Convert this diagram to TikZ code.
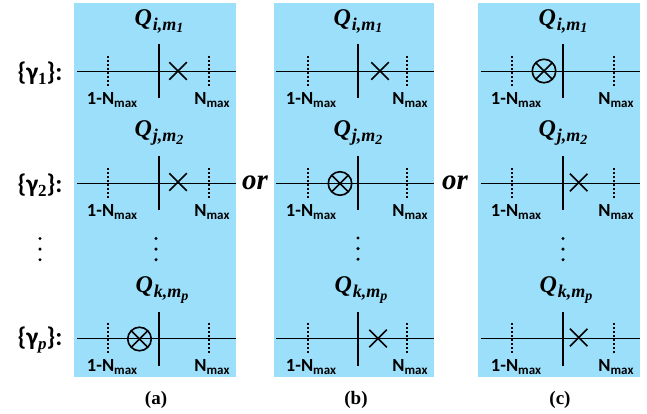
\documentclass[tikz,border=0pt]{standalone}
\usepackage{amsmath}
\usepackage{amssymb}
\usepackage{fontspec}
\usepackage{tikz}
\usetikzlibrary{shapes.misc}
\newfontfamily\calfont{Carlito}[BoldFont={Carlito Bold}]
\setmainfont{Liberation Serif}
\definecolor{panelblue}{RGB}{155,223,250}
\newcommand{\nmax}{N\raisebox{-3.5pt}{\fontsize{13}{13}\selectfont max}}
\newcommand{\qsub}[2]{Q\raisebox{-5pt}{\fontsize{18}{18}\selectfont\kern1pt #1\raisebox{-2.5pt}{\fontsize{14}{14}\selectfont #2}}}
\newcommand{\gset}[1]{\{γ\raisebox{-4pt}{\rmfamily\fontsize{17}{17}\selectfont #1}\}:}
\tikzset{
	panel/.style={fill=panelblue, draw=none},
	axis/.style={line width=1.1pt},
	wall/.style={line width=2pt},
	tick/.style={line width=2pt, dash pattern=on 2pt off 2pt},
	vdotted/.style={line width=3.4pt, line cap=round, dash pattern=on 0pt off 10.6pt},
	crossmark/.style={cross out, draw, line width=1.5pt, minimum size=16pt, inner sep=0pt},
	otimesmark/.style={circle, draw, line width=1.6pt, minimum size=23.5pt, inner sep=0pt,
		path picture={\draw[line width=1.5pt] (path picture bounding box.north west) -- (path picture bounding box.south east)
			(path picture bounding box.north east) -- (path picture bounding box.south west);}},
	qlabel/.style={font=\bfseries\itshape\fontsize{24}{24}\selectfont, inner sep=0pt},
	nlabel/.style={font=\calfont\bfseries\fontsize{18.5}{18.5}\selectfont, inner sep=0pt},
	glabel/.style={font=\calfont\bfseries\fontsize{25.5}{25.5}\selectfont, inner sep=0pt},
	orlabel/.style={font=\bfseries\itshape\fontsize{29}{29}\selectfont, inner sep=0pt},
	caption/.style={font=\bfseries\fontsize{19}{19}\selectfont, inner sep=0pt}
}
\begin{document}
\begin{tikzpicture}[x=1pt, y=-1pt]
	\useasboundingbox (0, 0) rectangle (647, 414);
	% panels
	\fill[panel] (74, 3) rectangle (236, 377);
	\fill[panel] (274, 3) rectangle (434, 377);
	\fill[panel] (478, 3) rectangle (640, 377);

	% left column
	\node[glabel] (g1) at (40, 73) {\gset{1}};
	\node[glabel] (g2) at (40, 185) {\gset{2}};
	\node[glabel] (gp) at (40, 340) {\gset{\itshape p}};
	\draw[vdotted] (40, 238.5) -- (40, 261);

	% panel a
	\node[qlabel] (qa1) at (159, 21) {\qsub{i,m}{1}};
	\draw[axis] (77, 71.5) -- (236, 71.5);
	\draw[wall] (159, 44) -- (159, 98);
	\draw[tick] (108, 56) -- (108, 86);
	\draw[tick] (209, 56) -- (209, 86);
	\node[crossmark] (xa1) at (178, 71) {};
	\node[nlabel] (la1) at (112, 100) {1-\nmax};
	\node[nlabel] (ra1) at (212, 100) {\nmax};

	\node[qlabel] (qa2) at (159, 133) {\qsub{j,m}{2}};
	\draw[axis] (77, 183.5) -- (236, 183.5);
	\draw[wall] (159, 156) -- (159, 210);
	\draw[tick] (108, 168) -- (108, 198);
	\draw[tick] (209, 168) -- (209, 198);
	\node[crossmark] (xa2) at (178, 182) {};
	\node[nlabel] (la2) at (112, 212) {1-\nmax};
	\node[nlabel] (ra2) at (212, 212) {\nmax};

	\draw[vdotted] (156, 238.5) -- (156, 261);

	\node[qlabel] (qa3) at (162, 290) {\qsub{k,m}{p}};
	\draw[axis] (77, 338.5) -- (236, 338.5);
	\draw[wall] (159, 311.5) -- (159, 365.5);
	\draw[tick] (108, 323) -- (108, 353);
	\draw[tick] (209, 323) -- (209, 353);
	\node[otimesmark] (oa3) at (139.5, 339) {};
	\node[nlabel] (la3) at (112, 367) {1-\nmax};
	\node[nlabel] (ra3) at (212, 367) {\nmax};

	% panel b
	\node[qlabel] (qb1) at (358, 21) {\qsub{i,m}{1}};
	\draw[axis] (276, 71.5) -- (434, 71.5);
	\draw[wall] (358, 44) -- (358, 98);
	\draw[tick] (308, 56) -- (308, 86);
	\draw[tick] (407, 56) -- (407, 86);
	\node[crossmark] (xb1) at (380, 71) {};
	\node[nlabel] (lb1) at (311, 100) {1-\nmax};
	\node[nlabel] (rb1) at (410, 100) {\nmax};

	\node[qlabel] (qb2) at (358, 133) {\qsub{j,m}{2}};
	\draw[axis] (276, 183.5) -- (434, 183.5);
	\draw[wall] (358, 156) -- (358, 210);
	\draw[tick] (308, 168) -- (308, 198);
	\draw[tick] (407, 168) -- (407, 198);
	\node[otimesmark] (ob2) at (340, 183.5) {};
	\node[nlabel] (lb2) at (311, 212) {1-\nmax};
	\node[nlabel] (rb2) at (410, 212) {\nmax};

	\draw[vdotted] (358, 238) -- (358, 260.5);

	\node[qlabel] (qb3) at (361, 290) {\qsub{k,m}{p}};
	\draw[axis] (276, 338.5) -- (434, 338.5);
	\draw[wall] (358, 311.5) -- (358, 365.5);
	\draw[tick] (308, 323) -- (308, 353);
	\draw[tick] (407, 323) -- (407, 353);
	\node[crossmark] (xb3) at (378, 338.5) {};
	\node[nlabel] (lb3) at (311, 367) {1-\nmax};
	\node[nlabel] (rb3) at (410, 367) {\nmax};

	% panel c
	\node[qlabel] (qc1) at (563, 21) {\qsub{i,m}{1}};
	\draw[axis] (481, 71.5) -- (640, 71.5);
	\draw[wall] (563, 44) -- (563, 98);
	\draw[tick] (512, 56) -- (512, 86);
	\draw[tick] (614, 56) -- (614, 86);
	\node[otimesmark] (oc1) at (544, 71) {};
	\node[nlabel] (lc1) at (516, 100) {1-\nmax};
	\node[nlabel] (rc1) at (616, 100) {\nmax};

	\node[qlabel] (qc2) at (563, 133) {\qsub{j,m}{2}};
	\draw[axis] (481, 183.5) -- (640, 183.5);
	\draw[wall] (563, 156) -- (563, 210);
	\draw[tick] (512, 168) -- (512, 198);
	\draw[tick] (614, 168) -- (614, 198);
	\node[crossmark] (xc2) at (578.7, 182.5) {};
	\node[nlabel] (lc2) at (516, 212) {1-\nmax};
	\node[nlabel] (rc2) at (616, 212) {\nmax};

	\draw[vdotted] (563, 238.5) -- (563, 261);

	\node[qlabel] (qc3) at (566, 290) {\qsub{k,m}{p}};
	\draw[axis] (481, 338.5) -- (640, 338.5);
	\draw[wall] (563, 311.5) -- (563, 365.5);
	\draw[tick] (512, 323) -- (512, 353);
	\draw[tick] (614, 323) -- (614, 353);
	\node[crossmark] (xc3) at (578.7, 337.5) {};
	\node[nlabel] (lc3) at (516, 367) {1-\nmax};
	\node[nlabel] (rc3) at (616, 367) {\nmax};

	% between the panels
	\node[orlabel] (or1) at (255, 183) {or};
	\node[orlabel] (or2) at (455, 183) {or};
	\node[caption] (capa) at (156, 400) {(a)};
	\node[caption] (capb) at (356, 400) {(b)};
	\node[caption] (capc) at (560, 400) {(c)};
\end{tikzpicture}
\end{document}
